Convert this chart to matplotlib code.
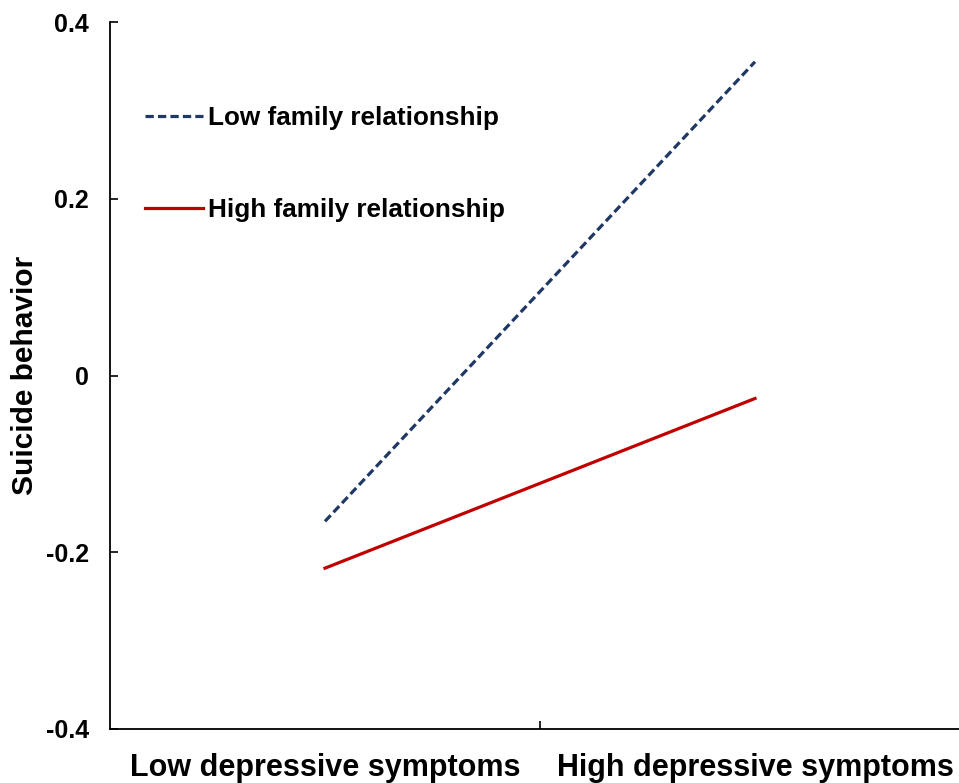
import matplotlib.pyplot as plt

plt.rcParams['font.family'] = ['Liberation Sans', 'DejaVu Sans']
plt.rcParams['font.weight'] = 'bold'

# data
categories = ['Low depressive symptoms', 'High depressive symptoms']
low_family = [-0.165, 0.355]
high_family = [-0.218, -0.026]
series_labels = ['Low family relationship', 'High family relationship']
y_ticks = [-0.4, -0.2, 0, 0.2, 0.4]
y_tick_labels = ['-0.4', '-0.2', '0', '0.2', '0.4']

fig = plt.figure(figsize=(9.59, 7.83), dpi=100)
ax = fig.add_axes([110 / 959, 1 - 729 / 783, 860 / 959, 707 / 783])

x = list(range(len(categories)))
ax.plot(x, low_family, color='#203864', linewidth=2.3, linestyle=(0, (2.6, 1.3)),
        label=series_labels[0])
ax.plot(x, high_family, color='#C00000', linewidth=2.3, label=series_labels[1])

ax.set_xlim(-0.5, 1.5)
ax.set_ylim(-0.4, 0.4)
ax.set_yticks(y_ticks)
ax.set_yticklabels(y_tick_labels)

# category labels at centres, tick mark only between them
ax.set_xticks(x)
ax.set_xticklabels(categories)
ax.tick_params(axis='x', which='major', length=0, pad=17, labelsize=22)
ax.set_xticks([0.5], minor=True)
ax.tick_params(axis='x', which='minor', direction='in', length=6, width=1.2)
ax.tick_params(axis='y', direction='in', length=6, width=1.2, pad=15, labelsize=18)

ax.set_ylabel('Suicide behavior', fontsize=21.5, fontweight='bold')
ax.yaxis.set_label_coords(-0.083, 0.5)

for s in ['top', 'right']:
    ax.spines[s].set_visible(False)
for s in ['left', 'bottom']:
    ax.spines[s].set_linewidth(1.3)

ax.legend(loc='upper left', bbox_to_anchor=(0.029, 0.896), frameon=False,
          fontsize=18.8, labelspacing=2.62, handlelength=2.2, handletextpad=0.2,
          borderaxespad=0)

fig.savefig('out.png', dpi=100)
